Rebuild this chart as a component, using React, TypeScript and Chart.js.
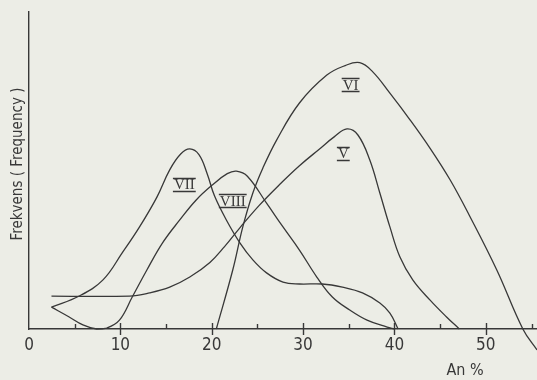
import React, { useEffect, useRef } from "react";
import { Chart, registerables } from "chart.js";

Chart.register(...registerables);

// Curve V
const vX = [2.46, 11.0, 13.2, 15.4, 17.6, 19.8, 21.4, 23.1, 25.2, 27.4, 29.6, 31.8, 33.4, 34.8, 36.0, 37.3, 38.4, 39.5, 40.6, 42.0, 43.9, 45.7, 47.1];
const vY = [10.4, 10.4, 11.4, 13.2, 16.4, 21.0, 26.0, 32.0, 39.0, 45.5, 51.5, 56.8, 60.6, 63.1, 61.2, 53.3, 42.9, 32.2, 22.7, 15.5, 9.1, 3.8, 0];
// Curve VI
const viX = [20.5, 22.3, 23.4, 24.5, 25.6, 27.1, 29.6, 32.6, 34.6, 36.2, 37.6, 39.5, 41.7, 43.9, 46.1, 48.2, 51.2, 54.05, 55.6];
const viY = [0, 18.6, 32.2, 42.9, 50.8, 59.6, 71.3, 80.1, 83.1, 84.0, 81.2, 74.4, 66.0, 57.0, 47.0, 35.8, 18.6, 0, -6.6];
// Curve VII
const viiX = [2.46, 5.5, 8.1, 10.2, 12.1, 14.0, 15.4, 16.6, 17.6, 18.6, 19.5, 20.3, 21.6, 23.1, 24.5, 26.0, 27.8, 29.6, 32.1, 34.3, 36.5, 38.4, 39.5, 40.4];
const viiY = [6.9, 10.4, 15.5, 24.0, 32.2, 41.6, 50.2, 55.2, 56.8, 55.0, 49.0, 42.0, 34.4, 27.1, 21.8, 17.7, 14.8, 14.2, 14.2, 13.2, 11.4, 8.2, 5.0, 0];
// Curve VIII
const viiiX = [2.46, 4.4, 5.9, 7.4, 8.5, 9.9, 11.3, 12.9, 14.6, 16.5, 18.3, 20.1, 21.7, 22.7, 23.9, 26.0, 27.8, 29.6, 31.5, 33.2, 35.1, 37.0, 39.2, 40.0];
const viiiY = [6.9, 3.8, 1.3, 0, 0.3, 2.8, 10.1, 18.6, 27.1, 34.4, 40.7, 45.5, 49.0, 49.8, 48.2, 39.7, 32.2, 24.9, 16.4, 10.1, 6.0, 2.8, 0.6, 0];

// Curve labels (roman numerals) placed in data coordinates
const curveNames = ["V", "VI", "VII", "VIII"];
const curveLabelX = [34.4, 35.2, 17.0, 22.3];
const curveLabelY = [55.4, 77.1, 45.6, 40.5];

const xTickValues = [0, 10, 20, 30, 40, 50];
const xTitle = "An %";
const yTitle = "Frekvens ( Frequency )";

const INK = "#383838";
const BG = "#ecede6";
const SANS = "'Liberation Sans Narrow', 'DejaVu Sans Condensed', 'DejaVu Sans', sans-serif";

const zip = (xs: number[], ys: number[]) => xs.map((x, i) => ({ x, y: ys[i] }));

const decorPlugin = {
  id: "decor",
  afterDraw(chart: any) {
    const ctx = chart.ctx;
    const xs = chart.scales.x;
    const ys = chart.scales.y;
    const y0 = ys.getPixelForValue(0);
    ctx.save();
    ctx.strokeStyle = INK;
    ctx.lineWidth = 1.4;
    // tick marks
    for (let v = 5; v <= 55; v += 5) {
      const px = Math.round(xs.getPixelForValue(v)) + 0.5;
      const major = v % 10 === 0;
      ctx.beginPath();
      ctx.moveTo(px, major ? y0 - 6 : y0 - 5);
      ctx.lineTo(px, major ? y0 + 6 : y0);
      ctx.stroke();
    }
    // roman labels
    ctx.fillStyle = INK;
    ctx.font = "15px 'Liberation Serif', 'DejaVu Serif', serif";
    ctx.textAlign = "center";
    ctx.textBaseline = "middle";
    curveNames.forEach((name, i) => {
      const cx = xs.getPixelForValue(curveLabelX[i]);
      const cy = ys.getPixelForValue(curveLabelY[i]);
      const w = ctx.measureText(name).width + 2;
      ctx.fillText(name, cx, cy + 1);
      ctx.lineWidth = 1.5;
      ctx.beginPath();
      ctx.moveTo(cx - w / 2, cy - 6);
      ctx.lineTo(cx + w / 2, cy - 6);
      ctx.moveTo(cx - w / 2, cy + 7);
      ctx.lineTo(cx + w / 2, cy + 7);
      ctx.stroke();
    });
    // axis titles
    ctx.font = `16px ${SANS}`;
    ctx.textAlign = "center";
    ctx.textBaseline = "middle";
    ctx.fillText(xTitle, 465, 371);
    ctx.translate(18, 164);
    ctx.rotate(-Math.PI / 2);
    ctx.font = `15px ${SANS}`;
    ctx.fillText(yTitle, 0, 0);
    ctx.restore();
  },
};

export default function App() {
  const ref = useRef<HTMLCanvasElement | null>(null);
  useEffect(() => {
    document.body.style.margin = "0";
    document.body.style.background = BG;
    const mk = (label: string, xs: number[], ys: number[]) => ({
      label,
      data: zip(xs, ys),
      borderColor: INK,
      borderWidth: 1.3,
      pointRadius: 0,
      fill: false,
      tension: 0.4,
      clip: false as any,
    });
    const chart = new Chart(ref.current as HTMLCanvasElement, {
      type: "line",
      data: {
        datasets: [
          mk("V", vX, vY),
          mk("VI", viX, viY),
          mk("VII", viiX, viiY),
          mk("VIII", viiiX, viiiY),
        ],
      },
      options: {
        animation: false,
        responsive: false,
        devicePixelRatio: 1,
        layout: { padding: { top: 12, right: 0, left: 0, bottom: 0 } },
        plugins: { legend: { display: false }, tooltip: { enabled: false } },
        scales: {
          x: {
            type: "linear",
            min: 0,
            max: 55.6,
            afterFit: (s: any) => {
              s.height = 51;
            },
            afterBuildTicks: (s: any) => {
              s.ticks = xTickValues.map((v) => ({ value: v }));
            },
            ticks: {
              color: INK,
              font: { family: SANS, size: 17 },
              padding: 6,
              autoSkip: false,
              maxRotation: 0,
              callback: (v: any) => String(v),
            },
            grid: { display: false, drawTicks: false },
            border: { display: true, color: INK, width: 1.6 },
          },
          y: {
            min: 0,
            max: 100,
            afterFit: (s: any) => {
              s.width = 29;
            },
            ticks: { display: false },
            grid: { display: false, drawTicks: false },
            border: { display: true, color: INK, width: 1.4 },
          },
        },
      },
      plugins: [decorPlugin],
    });
    return () => chart.destroy();
  }, []);
  return (
    <div style={{ width: 537, height: 380, background: BG }}>
      <canvas ref={ref} width={537} height={380} style={{ display: "block" }} />
    </div>
  );
}
